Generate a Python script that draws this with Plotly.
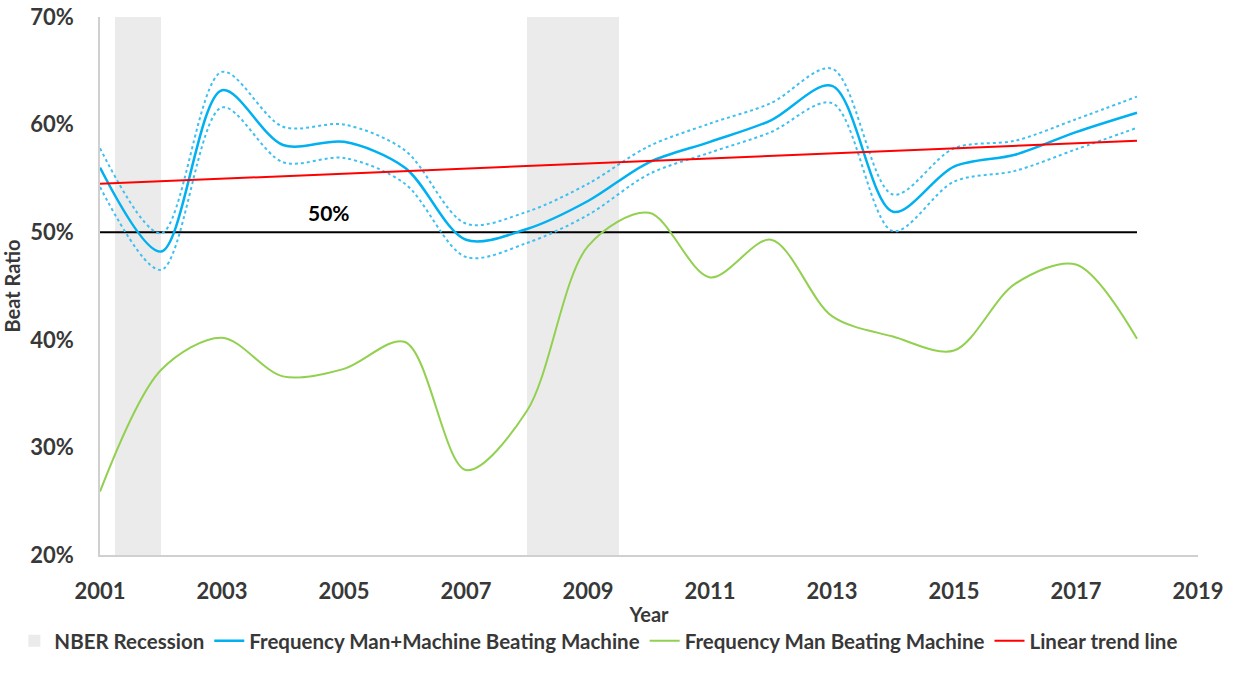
import plotly.graph_objects as go

years = list(range(2001, 2019))

# Frequency Man+Machine beating Machine (%), with its dotted confidence band
man_machine = [56.0, 48.2, 63.2, 58.1, 58.4, 56.0, 49.3, 50.3, 52.9, 56.5,
               58.4, 60.4, 63.6, 51.9, 56.1, 57.2, 59.3, 61.1]
man_machine_upper = [57.8, 49.9, 64.9, 59.8, 60.0, 57.6, 50.8, 51.9, 54.5, 58.0,
                     60.1, 62.0, 65.2, 53.5, 57.8, 58.5, 60.5, 62.6]
man_machine_lower = [54.2, 46.5, 61.6, 56.5, 56.9, 54.5, 47.7, 49.0, 51.6, 55.4,
                     57.4, 59.3, 62.0, 50.1, 54.7, 55.7, 57.7, 59.7]

# Frequency Man beating Machine (%)
man_only = [25.9, 37.2, 40.2, 36.6, 37.3, 39.8, 27.9, 33.4, 48.7, 51.8,
            45.8, 49.3, 42.2, 40.3, 39.0, 45.2, 47.0, 40.1]

trend_years = [2001, 2018]
trend_values = [54.5, 58.5]

threshold_years = [2001, 2018]
threshold_values = [50, 50]

recession_start = [2001.25, 2008.0]
recession_end = [2002.0, 2009.5]

tick_years = [2001, 2003, 2005, 2007, 2009, 2011, 2013, 2015, 2017, 2019]
y_ticks = [20, 30, 40, 50, 60, 70]

TEXT = "#383838"
FONT = "Lato"

fig = go.Figure()

fig.add_trace(
    go.Bar(
        x=[(s + e) / 2 for s, e in zip(recession_start, recession_end)],
        y=[70 - 20] * len(recession_start),
        base=20,
        width=[e - s for s, e in zip(recession_start, recession_end)],
        marker=dict(color="#EBEBEB", line=dict(width=0)),
        name="<b>NBER Recession</b>",
        hoverinfo="skip",
    )
)

fig.add_trace(
    go.Scatter(
        x=threshold_years,
        y=threshold_values,
        mode="lines",
        line=dict(color="#000000", width=2),
        showlegend=False,
        hoverinfo="skip",
    )
)

for band in (man_machine_upper, man_machine_lower):
    fig.add_trace(
        go.Scatter(
            x=years,
            y=band,
            mode="lines",
            line=dict(color="#3fc0f0", width=2, dash="dot", shape="spline", smoothing=0.9),
            showlegend=False,
            hoverinfo="skip",
        )
    )

fig.add_trace(
    go.Scatter(
        x=years,
        y=man_machine,
        mode="lines",
        name="<b>Frequency Man+Machine Beating Machine</b>",
        line=dict(color="#00B0F0", width=2.5, shape="spline", smoothing=0.9),
    )
)

fig.add_trace(
    go.Scatter(
        x=years,
        y=man_only,
        mode="lines",
        name="<b>Frequency Man Beating Machine</b>",
        line=dict(color="#92D050", width=2, shape="spline", smoothing=0.9),
    )
)

fig.add_trace(
    go.Scatter(
        x=trend_years,
        y=trend_values,
        mode="lines",
        name="<b>Linear trend line</b>",
        line=dict(color="#FF0000", width=2),
    )
)

fig.add_annotation(
    x=2004.75,
    y=51.8,
    text="<b>50%</b>",
    showarrow=False,
    font=dict(family=FONT, size=21, color="#000000"),
)

fig.update_layout(
    width=1234,
    height=673,
    plot_bgcolor="#ffffff",
    paper_bgcolor="#ffffff",
    font=dict(family=FONT, size=22, color=TEXT),
    margin=dict(l=100, r=36, t=17, b=115),
    bargap=0,
    xaxis=dict(
        range=[2001, 2019],
        tickmode="array",
        tickvals=tick_years,
        ticktext=[f"<b>{y}</b>" for y in tick_years],
        tickfont=dict(family=FONT, size=22, color=TEXT),
        ticklabeloverflow="allow",
        showgrid=False,
        zeroline=False,
        showline=True,
        linecolor="#d0d0d0",
        linewidth=1.5,
        ticks="",
        ticklabelstandoff=16,
        title=dict(text="<b>Year</b>", standoff=5, font=dict(family=FONT, size=20, color=TEXT)),
        automargin=False,
    ),
    yaxis=dict(
        range=[20, 70],
        tickvals=y_ticks,
        ticktext=[f"<b>{v}%</b>" for v in y_ticks],
        tickfont=dict(family=FONT, size=22, color=TEXT),
        ticklabeloverflow="allow",
        showgrid=False,
        zeroline=False,
        showline=True,
        linecolor="#d0d0d0",
        linewidth=1.5,
        ticks="",
        ticklabelstandoff=20,
        title=dict(text="<b>Beat Ratio</b>", standoff=14, font=dict(family=FONT, size=20, color=TEXT)),
        automargin=False,
    ),
    legend=dict(
        orientation="h",
        x=-0.078,
        xanchor="left",
        y=-0.197,
        yanchor="bottom",
        font=dict(family=FONT, size=20.5, color=TEXT),
        itemwidth=30,
        traceorder="normal",
    ),
    showlegend=True,
)

# drop the default body margin so the figure fills the window exactly
fig.write_html(
    "out.html",
    config={"displayModeBar": False},
    post_script="document.body.style.margin = '0';",
)
